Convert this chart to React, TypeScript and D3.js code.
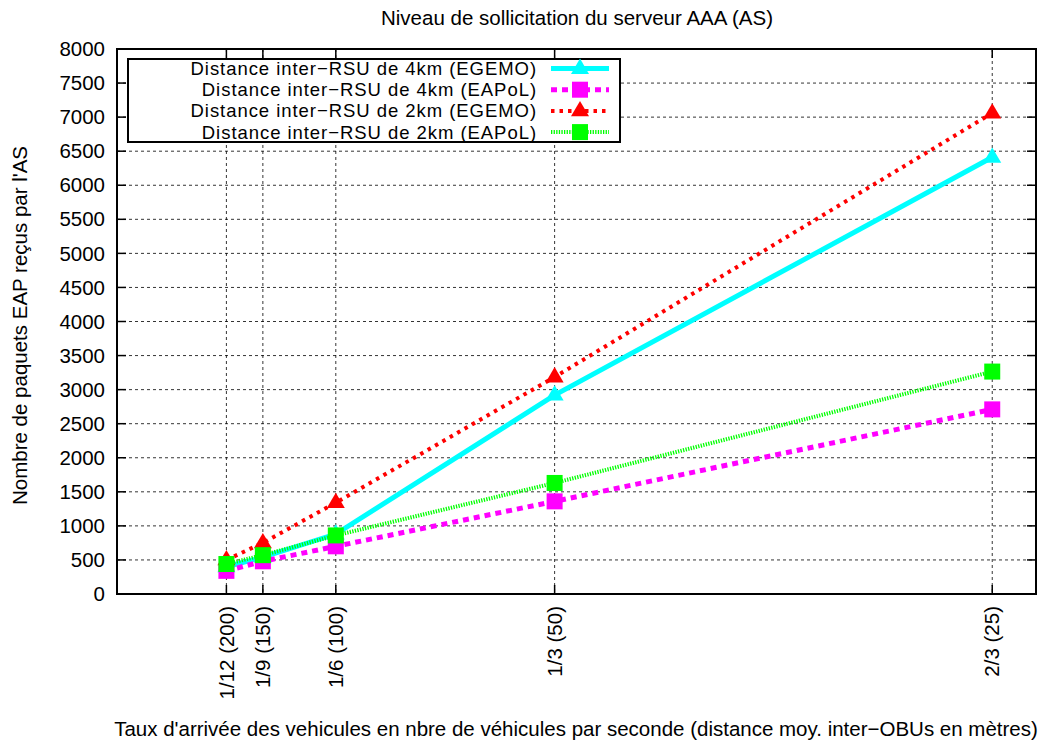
import React from "react";
import * as d3 from "d3";

const xValues = [1 / 12, 1 / 9, 1 / 6, 1 / 3, 2 / 3];
const xTickLabels = ["1/12 (200)", "1/9 (150)", "1/6 (100)", "1/3 (50)", "2/3 (25)"];
const yTicks = [0, 500, 1000, 1500, 2000, 2500, 3000, 3500, 4000, 4500, 5000, 5500, 6000, 6500, 7000, 7500, 8000];

const cyan4kmEGEMO = [400, 540, 880, 2920, 6410];
const magenta4kmEAPoL = [340, 480, 700, 1360, 2710];
const red2kmEGEMO = [500, 750, 1340, 3185, 7060];
const green2kmEAPoL = [440, 570, 860, 1630, 3265];

const seriesNames = [
  "Distance inter\u2212RSU de 4km (EGEMO)",
  "Distance inter\u2212RSU de 4km (EAPoL)",
  "Distance inter\u2212RSU de 2km (EGEMO)",
  "Distance inter\u2212RSU de 2km (EAPoL)",
];

const W = 1051;
const H = 743;
const L = 117, R = 1036, T = 49, B = 594;
const FONT = "Liberation Sans, Arial, sans-serif";
const FS = 20.5;

type Series = { name: string; values: number[]; color: string; width: number; dash: string | null; marker: "tri" | "sq" };

const series: Series[] = [
  { name: seriesNames[0], values: cyan4kmEGEMO, color: "#00ffff", width: 5, dash: null, marker: "tri" },
  { name: seriesNames[1], values: magenta4kmEAPoL, color: "#ff00ff", width: 5, dash: "6,5", marker: "sq" },
  { name: seriesNames[2], values: red2kmEGEMO, color: "#ff0000", width: 4, dash: "3.5,5", marker: "tri" },
  { name: seriesNames[3], values: green2kmEAPoL, color: "#00ff00", width: 4, dash: "1.3,1.3", marker: "sq" },
];

function Marker({ x, y, type, color }: { x: number; y: number; type: "tri" | "sq"; color: string }) {
  if (type === "sq") {
    return <rect x={x - 8} y={y - 8} width={16} height={16} fill={color} />;
  }
  const s = 9;
  return <path d={`M${x},${y - s * 1.1}L${x + s},${y + s * 0.6}L${x - s},${y + s * 0.6}Z`} fill={color} />;
}

export default function App() {
  const x = d3.scaleLinear().domain([0, 0.7]).range([L, R]);
  const y = d3.scaleLinear().domain([0, 8000]).range([B, T]);
  const line = d3
    .line<number>()
    .x((_, i) => x(xValues[i]))
    .y((d) => y(d));

  const legendRows = [68.5, 89.7, 110.9, 132.1];

  return (
    <svg width={W} height={H} style={{ position: "absolute", left: 0, top: 0 }} fontFamily={FONT}>
      <rect width={W} height={H} fill="#fff" />
      {/* grid */}
      {yTicks.slice(1, -1).map((t) => (
        <line key={"gy" + t} x1={L} x2={R} y1={y(t)} y2={y(t)} stroke="#000" strokeWidth={0.8} strokeDasharray="3,3" />
      ))}
      {xValues.map((v, i) => (
        <line key={"gx" + i} x1={x(v)} x2={x(v)} y1={T} y2={B} stroke="#000" strokeWidth={0.8} strokeDasharray="3,3" />
      ))}
      {/* ticks */}
      {yTicks.map((t) => (
        <g key={"ty" + t}>
          <line x1={L} x2={L + 9} y1={y(t)} y2={y(t)} stroke="#000" strokeWidth={1.5} />
          <line x1={R - 9} x2={R} y1={y(t)} y2={y(t)} stroke="#000" strokeWidth={1.5} />
          <text x={L - 12} y={y(t)} dy="0.35em" textAnchor="end" fontSize={FS}>
            {t}
          </text>
        </g>
      ))}
      {xValues.map((v, i) => (
        <g key={"tx" + i}>
          <line x1={x(v)} x2={x(v)} y1={B} y2={B - 9} stroke="#000" strokeWidth={1.5} />
          <line x1={x(v)} x2={x(v)} y1={T} y2={T + 9} stroke="#000" strokeWidth={1.5} />
          <text
            transform={`translate(${x(v)},${B + 12}) rotate(-90)`}
            dy="0.35em"
            textAnchor="end"
            fontSize={FS}
          >
            {xTickLabels[i]}
          </text>
        </g>
      ))}
      {/* series */}
      {series.map((s, k) => (
        <g key={"s" + k}>
          <path
            d={line(s.values) || ""}
            fill="none"
            stroke={s.color}
            strokeWidth={s.width}
            strokeDasharray={s.dash || undefined}
          />
          {s.values.map((v, i) => (
            <Marker key={i} x={x(xValues[i])} y={y(v)} type={s.marker} color={s.color} />
          ))}
        </g>
      ))}
      {/* frame */}
      <rect x={L} y={T} width={R - L} height={B - T} fill="none" stroke="#000" strokeWidth={2} />
      {/* legend */}
      <rect x={128} y={59} width={492} height={83} fill="#fff" stroke="#000" strokeWidth={2} />
      {series.map((s, k) => (
        <g key={"l" + k}>
          <text x={537} y={legendRows[k]} dy="0.35em" textAnchor="end" fontSize={18.5} letterSpacing={0.95}>
            {s.name}
          </text>
          <line
            x1={551}
            x2={609}
            y1={legendRows[k]}
            y2={legendRows[k]}
            stroke={s.color}
            strokeWidth={s.width}
            strokeDasharray={s.dash || undefined}
          />
          <Marker x={580} y={legendRows[k]} type={s.marker} color={s.color} />
        </g>
      ))}
      {/* titles */}
      <text x={577} y={18} dy="0.35em" textAnchor="middle" fontSize={FS}>
        Niveau de sollicitation du serveur AAA (AS)
      </text>
      <text x={576} y={729} dy="0.35em" textAnchor="middle" fontSize={FS}>
        Taux d'arrivée des vehicules en nbre de véhicules par seconde (distance moy. inter−OBUs en mètres)
      </text>
      <text transform={`translate(20,${(T + B) / 2 + 4}) rotate(-90)`} dy="0.35em" textAnchor="middle" fontSize={FS}>
        Nombre de paquets EAP reçus par l'AS
      </text>
    </svg>
  );
}
